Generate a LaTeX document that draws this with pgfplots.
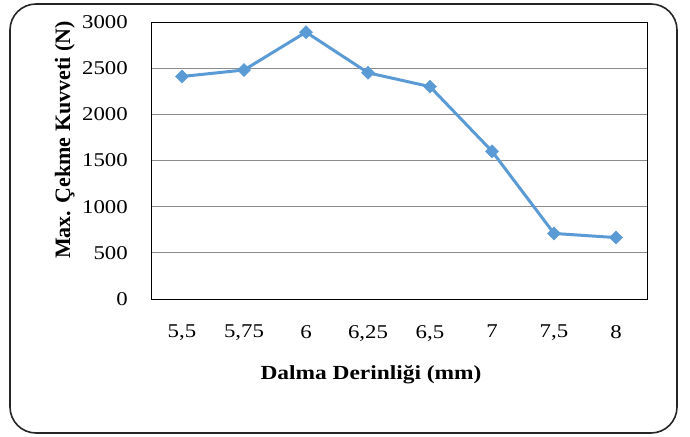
\documentclass[border=0pt]{standalone}
\usepackage{fontspec}
\setmainfont[FakeStretch=1.17]{Liberation Serif}
\newfontfamily\ylabfont{Liberation Serif}
\usepackage{pgfplots}
\usepackage{pgfplotstable}
\pgfplotsset{compat=1.18}
\definecolor{seriesblue}{RGB}{91,155,213}
\definecolor{gridgray}{RGB}{140,140,140}

% Maximum pull-out force (N) for each plunge depth
\pgfplotstableread{
idx force
0 2410
1 2480
2 2890
3 2450
4 2300
5 1600
6 710
7 665
}\forcetable

\begin{document}
\begin{tikzpicture}[x=1pt,y=1pt]
\path (0,0) rectangle (690,436);
\draw[line width=1.6pt, rounded corners=26pt, black!85] (10,3) rectangle (677,432);
\begin{axis}[
  at={(151pt,137pt)}, anchor=south west,
  scale only axis, width=496pt, height=277pt,
  xmin=-0.5, xmax=7.5, ymin=0, ymax=3000,
  xtick={0,...,7},
  xticklabels={{5,5},{5,75},6,{6,25},{6,5},7,{7,5},8},
  ytick={0,500,...,3000},
  ymajorgrids, grid style={gridgray, line width=0.8pt},
  major tick length=0pt,
  axis line style={black, line width=0.8pt},
  /pgf/number format/assume math mode=true,
  /pgf/number format/1000 sep={},
  scaled y ticks=false,
  ticklabel style={font=\fontsize{19.5}{22}\selectfont, inner sep=0pt},
  yticklabel style={anchor=east, xshift=-23pt},
  xticklabel style={anchor=north, yshift=-26pt},
  xlabel={Dalma Derinliği (mm)},
  xlabel style={at={(axis description cs:0.4435,-0.2924)}, anchor=base,
    font=\fontsize{20}{24}\selectfont\bfseries, inner sep=0pt},
  ylabel={Max. Çekme Kuvveti (N)},
  ylabel style={at={(axis description cs:-0.1633,0.574)}, anchor=base,
    font=\ylabfont\fontsize{22}{26}\selectfont\bfseries, inner sep=0pt},
]
\addplot[seriesblue, line width=3pt, mark=square*, mark size=4.6pt,
  mark options={rotate=45, line width=0.5pt, fill=seriesblue}]
  table[x=idx, y=force]{\forcetable};
\end{axis}
\end{tikzpicture}
\end{document}
